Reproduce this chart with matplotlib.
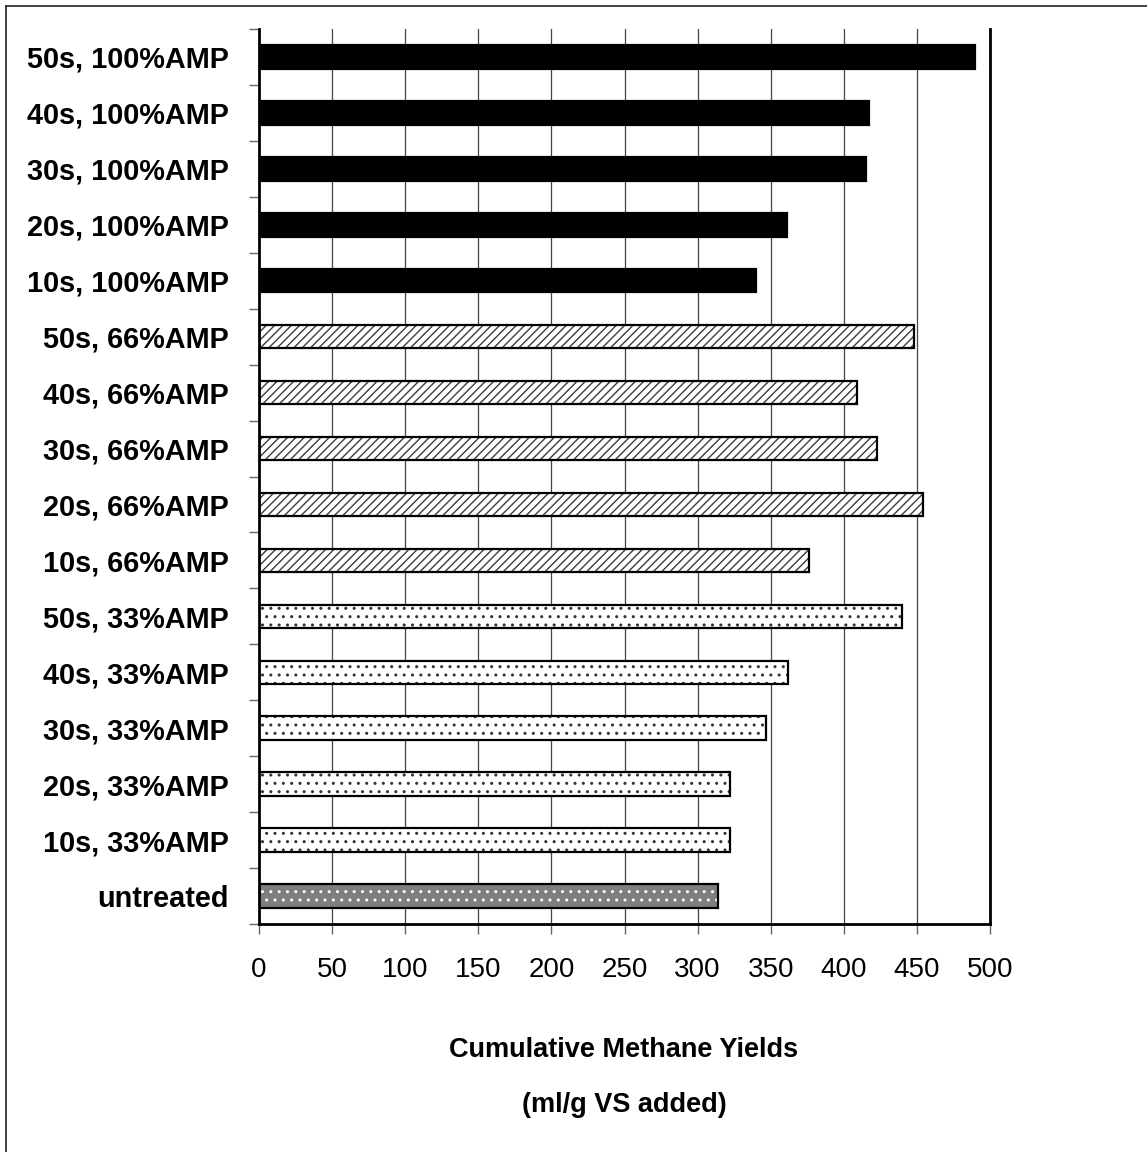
"""
cumulative methane yields after ultrasonic pretreatment, horizontal bars
"""
import matplotlib
matplotlib.use("Agg")
import matplotlib.pyplot as plt
from matplotlib import font_manager
from matplotlib.lines import Line2D

# bottom to top, same order as the axis
labels = ["untreated",
          "10s, 33%AMP", "20s, 33%AMP", "30s, 33%AMP", "40s, 33%AMP", "50s, 33%AMP",
          "10s, 66%AMP", "20s, 66%AMP", "30s, 66%AMP", "40s, 66%AMP", "50s, 66%AMP",
          "10s, 100%AMP", "20s, 100%AMP", "30s, 100%AMP", "40s, 100%AMP", "50s, 100%AMP"]
untreated = [314]
amp33 = [322, 322, 347, 362, 440]
amp66 = [376, 454, 423, 409, 448]
amp100 = [340, 361, 415, 417, 490]
xticks = [0, 50, 100, 150, 200, 250, 300, 350, 400, 450, 500]

# narrow arial-like face if there is one, otherwise shrink the normal one
names = {f.name for f in font_manager.fontManager.ttflist}
if "Liberation Sans Narrow" in names:
    FONT = "Liberation Sans Narrow"
    k = 1.0
else:
    FONT = "Liberation Sans"
    k = 0.85
plt.rcParams["font.family"] = [FONT, "DejaVu Sans"]
plt.rcParams["hatch.linewidth"] = 1.0

fig = plt.figure(figsize=(11.47, 11.52), dpi=100)
ax = fig.add_axes([259 / 1147, 1 - 924 / 1152, 731 / 1147, 895 / 1152])

H = 0.42
groups = [
    (range(0, 1), untreated, "#7e7e7e", "..", "white"),
    (range(1, 6), amp33, "white", "..", "#333333"),
    (range(6, 11), amp66, "white", "////", "#3a3a3a"),
    (range(11, 16), amp100, "black", None, "black"),
]
for pos, vals, face, hatch, hcol in groups:
    ax.barh(list(pos), vals, height=H, color=face, hatch=hatch,
            edgecolor=hcol, linewidth=0, zorder=2)
    ax.barh(list(pos), vals, height=H, facecolor="none",
            edgecolor="black", linewidth=1.6, zorder=3)

ax.set_xlim(0, 500)
ax.set_ylim(-0.5, 15.5)
ax.set_xticks(xticks)
ax.set_xticklabels([str(t) for t in xticks], fontsize=23.5 * k)
ax.set_yticks(range(len(labels)))
ax.set_yticklabels(labels, fontsize=24.5 * k, fontweight="bold")
ax.set_yticks([i - 0.5 for i in range(len(labels) + 1)], minor=True)

ax.tick_params(axis="y", which="major", length=0, pad=21.5)
ax.tick_params(axis="y", which="minor", length=7, width=1, color="#666666", direction="out")
ax.tick_params(axis="x", which="major", length=7, width=1, color="#666666",
               direction="out", pad=17)

ax.grid(axis="x", color="#444444", linewidth=0.9, zorder=1)
ax.set_axisbelow(True)
for side in ["left", "bottom", "right"]:
    ax.spines[side].set_linewidth(2)
    ax.spines[side].set_color("black")
ax.spines["top"].set_visible(False)

fig.text(624 / 1147, 1 - 1050 / 1152, "Cumulative Methane Yields",
         ha="center", va="center", fontsize=23 * k, fontweight="bold")
fig.text(624 / 1147, 1 - 1105 / 1152, "(ml/g VS added)",
         ha="center", va="center", fontsize=23 * k, fontweight="bold")

# outer frame (top and left edges)
fig.add_artist(Line2D([6 / 1147, 1], [1 - 6 / 1152, 1 - 6 / 1152],
                      transform=fig.transFigure, color="#222222", linewidth=1.2))
fig.add_artist(Line2D([6 / 1147, 6 / 1147], [0, 1 - 6 / 1152],
                      transform=fig.transFigure, color="#222222", linewidth=1.2))

fig.savefig("out.png", dpi=100, facecolor="white")
